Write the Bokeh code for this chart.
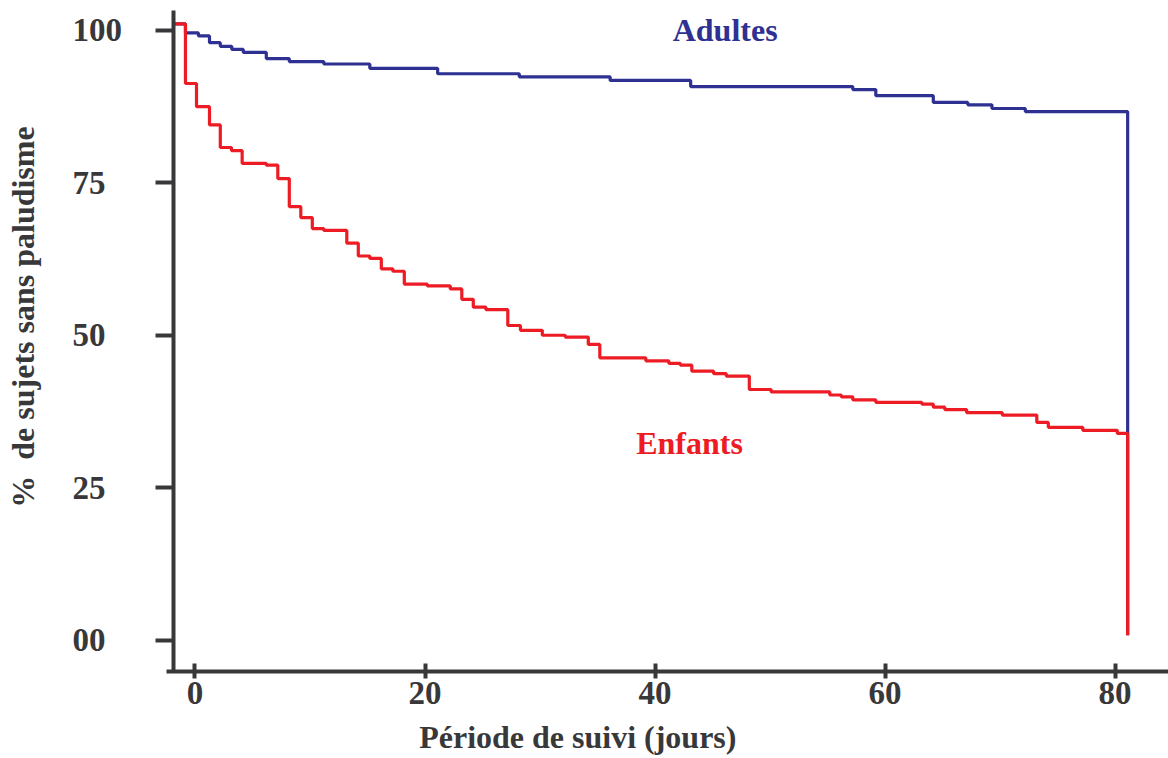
import math
from bokeh.plotting import figure
from bokeh.models import Range1d, Label, FixedTicker, LinearAxis
from bokeh.embed import file_html
from bokeh.resources import INLINE

# Kaplan-Meier style survival data (days, % without malaria)
days_enfants = [-1.78, -0.83, 0.13, 1.26, 2.2, 3.17, 4.1, 6.2, 7.2, 8.2, 9.2, 10.2, 11.2,
                13.2, 14.2, 15.2, 16.2, 17.2, 18.2, 20.2, 22.2, 23.2, 24.2, 25.3, 27.2,
                28.3, 30.2, 32.2, 34.2, 35.2, 39.2, 41.2, 42.2, 43.2, 45.1, 46.2, 48.2,
                50.1, 55.2, 56.2, 57.2, 59.2, 63.2, 64.2, 65.2, 67.1, 70.2, 73.2, 74.2,
                77.2, 80.2, 81.1]
surv_enfants = [101.1, 91.3, 87.5, 84.5, 80.8, 80.3, 78.2, 77.9, 75.7, 71.1, 69.3, 67.5, 67.2,
                65.1, 63.0, 62.6, 60.9, 60.5, 58.4, 58.1, 57.6, 55.9, 54.6, 54.2, 51.6,
                50.8, 50.0, 49.7, 48.5, 46.3, 45.8, 45.4, 45.1, 44.1, 43.7, 43.3, 41.1,
                40.7, 40.2, 39.9, 39.4, 39.0, 38.7, 38.2, 37.8, 37.3, 36.9, 35.7, 34.9,
                34.4, 33.9, 0.8]

days_adultes = [-1.78, -0.83, 0.3, 1.26, 2.2, 3.2, 4.2, 6.2, 8.2, 11.2, 15.2, 21.1, 28.2,
                36.1, 43.1, 57.2, 59.2, 64.2, 67.2, 69.3, 72.2, 81.1]
surv_adultes = [101.1, 99.6, 99.1, 98.0, 97.4, 96.9, 96.4, 95.4, 94.9, 94.5, 93.8, 92.9, 92.4,
                91.8, 90.8, 90.3, 89.3, 88.2, 87.8, 87.2, 86.7, 0.8]

x_ticks = [0, 20, 40, 60, 80]
y_ticks = [0, 25, 50, 75, 100]
y_tick_labels = {0: "00\u2002", 25: "25\u2002", 50: "50\u2002", 75: "75\u2002", 100: "100"}

BLUE = "#2e3192"
RED = "#ed1c24"
INK = "#38383a"
FONT = "Liberation Serif"

X0, X1 = -16.913, 84.652
Y0, Y1 = -19.44, 104.92
X_AXIS_AT = -5.12     # y value where the x axis is drawn
Y_AXIS_AT = -1.83     # x value where the y axis is drawn

p = figure(width=1168, height=758,
           x_range=Range1d(X0, X1), y_range=Range1d(Y0, Y1),
           output_backend="svg", toolbar_location=None,
           x_axis_location=None, y_axis_location=None, min_border=0)
p.outline_line_color = None
p.grid.visible = False
p.background_fill_color = "white"
p.border_fill_color = "white"

p.step(days_adultes, surv_adultes, mode="after", line_color=BLUE, line_width=3.2)
p.step(days_enfants, surv_enfants, mode="after", line_color=RED, line_width=3.2)

xaxis = LinearAxis(fixed_location=X_AXIS_AT, bounds=(-2.48, X1),
                   ticker=FixedTicker(ticks=x_ticks))
yaxis = LinearAxis(fixed_location=Y_AXIS_AT, bounds=(X_AXIS_AT, 103.28),
                   ticker=FixedTicker(ticks=y_ticks))
for ax in (xaxis, yaxis):
    ax.axis_line_width = 4
    ax.axis_line_color = INK
    ax.major_tick_line_width = 4
    ax.major_tick_line_color = INK
    ax.minor_tick_line_color = None
    ax.major_label_text_font = FONT
    ax.major_label_text_font_style = "bold"
    ax.major_label_text_font_size = "33px"
    ax.major_label_text_color = INK

xaxis.major_tick_in = 8
xaxis.major_tick_out = 7
xaxis.major_label_standoff = 4

yaxis.major_label_overrides = y_tick_labels
yaxis.major_tick_in = 0
yaxis.major_tick_out = 18
yaxis.major_label_standoff = 34

p.add_layout(xaxis, "below")
p.add_layout(yaxis, "left")


def lab(x, y, text, color, **kw):
    p.add_layout(Label(x=x, y=y, text=text, text_font=FONT, text_font_style="bold",
                       text_font_size="32px", text_color=color, **kw))


lab(46.1, 100.1, "Adultes", BLUE, text_align="center", text_baseline="alphabetic")
lab(43.0, 32.3, "Enfants", RED, text_align="center", text_baseline="alphabetic")
lab(33.29, -15.9, "Période de suivi (jours)", INK, text_align="center", text_baseline="alphabetic")
lab(-14.92, 52.99, "%\u00a0 de sujets sans paludisme", INK, text_align="center",
    text_baseline="alphabetic", angle=math.pi / 2)

open("out.html", "w").write(file_html(p, INLINE))
